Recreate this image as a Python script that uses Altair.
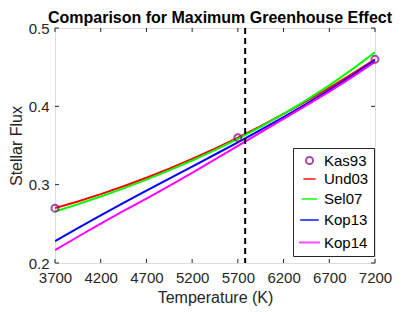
import altair as alt
import pandas as pd

temps = [3700, 3950, 4200, 4450, 4700, 4950, 5200, 5450, 5700, 5950, 6200, 6450, 6700, 6950, 7200]
und03 = [0.2701, 0.2786, 0.2879, 0.2980, 0.3088, 0.3205, 0.3329, 0.3461, 0.3600, 0.3748, 0.3903, 0.4065, 0.4236, 0.4414, 0.4600]
sel07 = [0.2657, 0.2750, 0.2849, 0.2953, 0.3064, 0.3183, 0.3308, 0.3442, 0.3586, 0.3739, 0.3903, 0.4079, 0.4268, 0.4472, 0.4691]
kop13 = [0.2280, 0.2445, 0.2608, 0.2767, 0.2923, 0.3077, 0.3231, 0.3385, 0.3541, 0.3700, 0.3863, 0.4032, 0.4208, 0.4393, 0.4590]
kop14 = [0.2165, 0.2335, 0.2503, 0.2665, 0.2823, 0.2985, 0.3151, 0.3322, 0.3496, 0.3668, 0.3839, 0.4012, 0.4189, 0.4373, 0.4568]
kas93_t = [3700, 5700, 7200]
kas93_s = [0.27, 0.36, 0.46]
sun_t = [5780]

models = ["Kas93", "Und03", "Sel07", "Kop13", "Kop14"]
colors = ["#800080", "#FF0000", "#00FF00", "#0000FF", "#FF00FF"]
shapes = ["circle", "stroke", "stroke", "stroke", "stroke"]
sizes = [50, 441, 441, 441, 441]
x_ticks = [3700, 4200, 4700, 5200, 5700, 6200, 6700, 7200]
y_ticks = [0.2, 0.3, 0.4, 0.5]

rows = []
for name, vals in [("Und03", und03), ("Sel07", sel07), ("Kop13", kop13), ("Kop14", kop14)]:
    for t, s in zip(temps, vals):
        rows.append({"T": t, "S": s, "model": name})
df_lines = pd.DataFrame(rows)
df_pts = pd.DataFrame({"T": kas93_t, "S": kas93_s, "model": ["Kas93"] * len(kas93_t)})
df_sun = pd.DataFrame({"T": sun_t})
df_xt = pd.DataFrame({"T": x_ticks})
df_yt = pd.DataFrame({"S": y_ticks})

FONT = "Liberation Sans"
TXT = "#262626"
W, H = 320, 235

xscale = alt.Scale(domain=[3700, 7200], nice=False, zero=False)
yscale = alt.Scale(domain=[0.2, 0.5], nice=False, zero=False)

x_enc = alt.X("T:Q", scale=xscale, title="Temperature (K)", axis=alt.Axis(
    values=x_ticks, format="d", domain=False, ticks=False, grid=False, labelOverlap=False,
    labelFlush=False, labelFont=FONT, labelFontSize=15, labelColor=TXT, labelPadding=7,
    titleFont=FONT, titleFontSize=16, titleFontWeight="normal", titleColor=TXT, titlePadding=4))
y_enc = alt.Y("S:Q", scale=yscale, title="Stellar Flux", axis=alt.Axis(
    values=y_ticks, format=".1f", domain=False, ticks=False, grid=False, labelOverlap=False,
    labelFlush=False, labelFont=FONT, labelFontSize=15, labelColor=TXT, labelPadding=6,
    titleFont=FONT, titleFontSize=16, titleFontWeight="normal", titleColor=TXT, titlePadding=4))
x_plain = alt.X("T:Q", scale=xscale, title="Temperature (K)")
y_plain = alt.Y("S:Q", scale=yscale, title="Stellar Flux")

legend = alt.Legend(orient="none", legendX=238, legendY=120, fillColor="white",
                    strokeColor=TXT, padding=5, labelFont=FONT, labelFontSize=15,
                    labelColor="black", rowPadding=2.5, symbolStrokeWidth=2, labelOffset=3)

color = alt.Color("model:N", scale=alt.Scale(domain=models, range=colors), title=None, legend=legend)

lines = alt.Chart(df_lines).mark_line(strokeWidth=2, clip=True).encode(
    x=x_enc, y=y_enc, color=color, detail="model:N")

points = alt.Chart(df_pts).mark_point(filled=False, strokeWidth=2, clip=False).encode(
    x=x_plain, y=y_plain,
    color=color,
    shape=alt.Shape("model:N", scale=alt.Scale(domain=models, range=shapes), title=None, legend=legend),
    size=alt.Size("model:N", scale=alt.Scale(domain=models, range=sizes), title=None, legend=legend),
)

sun = alt.Chart(df_sun).mark_rule(color="black", strokeWidth=2, strokeDash=[6, 4]).encode(x=x_plain)

xt_bot = alt.Chart(df_xt).mark_rule(color=TXT, strokeWidth=1).encode(
    x=x_plain, y=alt.value(H), y2=alt.value(H - 4))
xt_top = alt.Chart(df_xt).mark_rule(color=TXT, strokeWidth=1).encode(
    x=x_plain, y=alt.value(0), y2=alt.value(4))
yt_left = alt.Chart(df_yt).mark_rule(color=TXT, strokeWidth=1).encode(
    y=y_plain, x=alt.value(0), x2=alt.value(4))
yt_right = alt.Chart(df_yt).mark_rule(color=TXT, strokeWidth=1).encode(
    y=y_plain, x=alt.value(W), x2=alt.value(W - 4))

chart = alt.layer(lines, sun, xt_bot, xt_top, yt_left, yt_right, points).properties(
    width=W, height=H,
    title=alt.TitleParams("Comparison for Maximum Greenhouse Effect", font=FONT, fontSize=16,
                          fontWeight="bold", color="black", anchor="middle", frame="group",
                          offset=-5, dx=5),
    autosize=alt.AutoSizeParams(type="none"),
    padding={"left": 47, "top": 20, "right": 30, "bottom": 48},
).configure_view(stroke=TXT, strokeWidth=1.6).configure(background="white")

chart.save("out.html", embed_options={"renderer": "svg", "actions": False})
